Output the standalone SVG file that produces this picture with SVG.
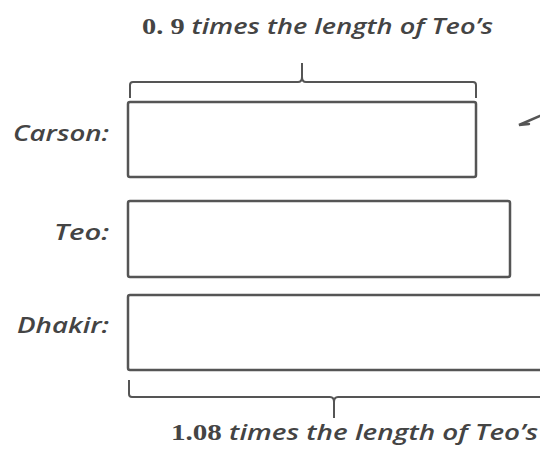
<svg xmlns="http://www.w3.org/2000/svg" width="540" height="450" viewBox="0 0 540 450">
<style>
.lbl{font-family:"Open Sans","Liberation Sans",sans-serif;font-style:italic;font-weight:600;font-size:22px;fill:#444}
.num{font-family:"Liberation Serif","DejaVu Serif",serif;font-style:normal;font-weight:700;font-size:23px}
.bar{fill:#fff;stroke:#555;stroke-width:2.5}
.br{fill:none;stroke:#555;stroke-width:2}
</style>
<rect width="540" height="450" fill="#fff"/>
<g id="carson">
<rect class="bar" x="128" y="102" width="348" height="75" rx="2"/>
<text class="lbl" x="109" y="141" text-anchor="end" textLength="96" lengthAdjust="spacingAndGlyphs">Carson:</text>
</g>
<g id="teo">
<rect class="bar" x="128" y="201" width="382" height="76" rx="2"/>
<text class="lbl" x="109" y="240" text-anchor="end" textLength="55" lengthAdjust="spacingAndGlyphs">Teo:</text>
</g>
<g id="dhakir">
<rect class="bar" x="128" y="295" width="430" height="75" rx="2"/>
<text class="lbl" x="109" y="333" text-anchor="end" textLength="92" lengthAdjust="spacingAndGlyphs">Dhakir:</text>
</g>
<g id="top-brace">
<path class="br" d="M130 98 V85 Q130 82 133 82 H298 Q302 82 302 77 V63 M302 77 Q302 82 306 82 H473 Q476 82 476 85 V98"/>
<text class="lbl" x="142" y="34" textLength="351" lengthAdjust="spacingAndGlyphs"><tspan class="num">0. 9</tspan> times the length of Teo’s</text>
</g>
<g id="bottom-brace">
<path class="br" d="M129 380 V394 Q129 397 132 397 H330 Q334 397 334 402 V418 M334 402 Q334 397 338 397 H545"/>
<text class="lbl" x="171" y="440" textLength="367" lengthAdjust="spacingAndGlyphs"><tspan class="num">1.08</tspan> times the length of Teo’s</text>
</g>
<g id="connectors">
<path d="M540 116 L519 125 L529 124" fill="none" stroke="#555" stroke-width="2.5" stroke-linecap="round"/>
</g>
</svg>
